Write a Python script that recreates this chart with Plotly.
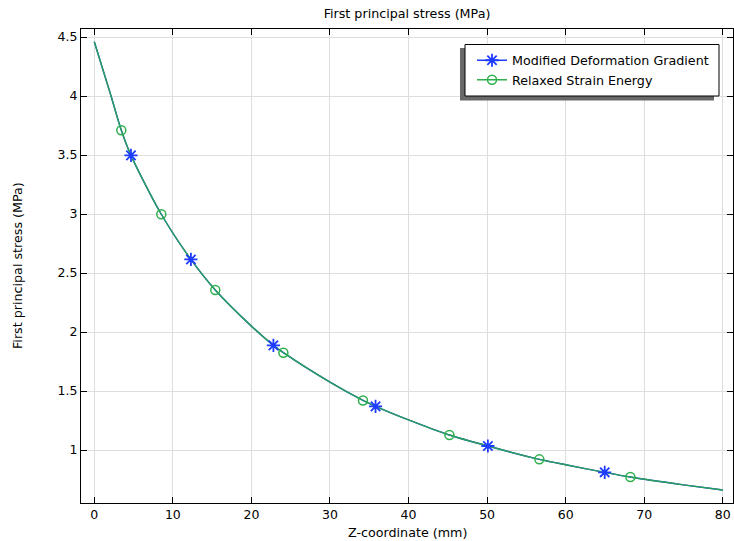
import plotly.graph_objects as go

# Z-coordinate (mm) along the evaluation line and first principal stress (MPa)
z_mm = [0, 2, 3.44, 4.67, 8.53, 12.3, 15.4, 20, 22.8, 24.07, 30, 34.2, 35.8,
        40, 45.2, 50.1, 56.65, 60, 64.97, 68.24, 75, 80]
stress_mdg = [4.46, 4.03, 3.71, 3.497, 2.998, 2.615, 2.356, 2.05, 1.887, 1.825,
              1.575, 1.42, 1.37, 1.255, 1.127, 1.034, 0.921, 0.875, 0.811,
              0.771, 0.705, 0.661]
stress_rse = [4.46, 4.03, 3.71, 3.497, 2.998, 2.615, 2.356, 2.05, 1.887, 1.825,
              1.575, 1.42, 1.37, 1.255, 1.127, 1.034, 0.921, 0.875, 0.811,
              0.771, 0.705, 0.661]

# Marker samples along each curve
mdg_marker_z = [4.67, 12.3, 22.8, 35.8, 50.1, 64.97]
mdg_marker_s = [3.497, 2.615, 1.887, 1.37, 1.034, 0.811]
rse_marker_z = [3.44, 8.53, 15.4, 24.07, 34.2, 45.2, 56.65, 68.24]
rse_marker_s = [3.71, 2.998, 2.356, 1.825, 1.42, 1.127, 0.921, 0.771]

series_names = ["Modified Deformation Gradient", "Relaxed Strain Energy"]
x_ticks = [0, 10, 20, 30, 40, 50, 60, 70, 80]
y_ticks = [1, 1.5, 2, 2.5, 3, 3.5, 4, 4.5]
y_tick_text = ["1", "1.5", "2", "2.5", "3", "3.5", "4", "4.5"]

BLUE = "rgb(30,60,255)"
GREEN = "rgb(45,175,75)"
LINE_GREEN = "rgb(40,160,85)"
FONT = "DejaVu Sans"

fig = go.Figure()

# curves
fig.add_trace(go.Scatter(x=z_mm, y=stress_mdg, mode="lines",
                         line=dict(color=BLUE, width=1.4, shape="spline", smoothing=0.8),
                         showlegend=False, hoverinfo="skip"))
fig.add_trace(go.Scatter(x=z_mm, y=stress_rse, mode="lines",
                         line=dict(color=LINE_GREEN, width=1.4, shape="spline", smoothing=0.8),
                         showlegend=False, hoverinfo="skip"))
# markers
asterisk = dict(symbol="asterisk-open", size=11, color=BLUE, line=dict(color=BLUE, width=1.8))
ring = dict(symbol="circle-open", size=9, color=GREEN, line=dict(color=GREEN, width=1.5))
fig.add_trace(go.Scatter(x=mdg_marker_z, y=mdg_marker_s, mode="markers", marker=asterisk, showlegend=False))
fig.add_trace(go.Scatter(x=rse_marker_z, y=rse_marker_s, mode="markers", marker=ring, showlegend=False))
# legend entries
fig.add_trace(go.Scatter(x=[None], y=[None], mode="lines+markers", name=series_names[0],
                         line=dict(color=BLUE, width=1.3), marker=asterisk))
fig.add_trace(go.Scatter(x=[None], y=[None], mode="lines+markers", name=series_names[1],
                         line=dict(color=GREEN, width=1.3), marker=ring))

L, R, T, B = 81, 1, 29, 38
W, H = 734, 541
pw, ph = W - L - R, H - T - B


def px_x(p):
    return (p - L) / pw


def px_y(p):
    return (H - B - p) / ph


# legend frame with drop shadow
fig.add_shape(type="rect", xref="paper", yref="paper", layer="above",
              x0=px_x(460), x1=px_x(714), y0=px_y(100.5), y1=px_y(48),
              fillcolor="rgb(105,105,105)", line=dict(width=0))
fig.add_shape(type="rect", xref="paper", yref="paper", layer="above",
              x0=px_x(465), x1=px_x(719), y0=px_y(96), y1=px_y(44.5),
              fillcolor="white", line=dict(color="black", width=1))

axis_common = dict(showgrid=True, gridcolor="rgb(222,222,222)", gridwidth=1,
                   showline=True, linecolor="black", linewidth=1, mirror="ticks",
                   ticks="inside", ticklen=6, tickwidth=1, tickcolor="black",
                   zeroline=False, tickfont=dict(family=FONT, size=12.5, color="black"))

fig.update_layout(
    width=W, height=H,
    margin=dict(l=L, r=R, t=T, b=B),
    paper_bgcolor="white", plot_bgcolor="white",
    font=dict(family=FONT, size=12.5, color="black"),
    title=dict(text="First principal stress (MPa)", x=0.5, xref="paper", xanchor="center",
               y=1 - 14 / H, yref="container", yanchor="middle",
               font=dict(family=FONT, size=12.7, color="black")),
    xaxis=dict(range=[-1.69, 81.3], tickvals=x_ticks, **axis_common),
    yaxis=dict(range=[0.551, 4.568], tickvals=y_ticks, ticktext=y_tick_text, **axis_common),
    legend=dict(x=px_x(472), y=px_y(45.5), xanchor="left", yanchor="top",
                bgcolor="rgba(0,0,0,0)", borderwidth=0,
                font=dict(family=FONT, size=12.7, color="black"),
                tracegroupgap=0, itemwidth=30),
    annotations=[
        dict(text="Z-coordinate (mm)", xref="paper", yref="paper", x=0.5, y=0,
             yshift=-29, xanchor="center", yanchor="middle", showarrow=False,
             font=dict(family=FONT, size=12.7, color="black")),
        dict(text="First principal stress (MPa)", xref="paper", yref="paper", x=0, y=0.5,
             xshift=-64, textangle=-90, xanchor="center", yanchor="middle", showarrow=False,
             font=dict(family=FONT, size=12.7, color="black")),
    ],
)

fig.write_html("out.html")
